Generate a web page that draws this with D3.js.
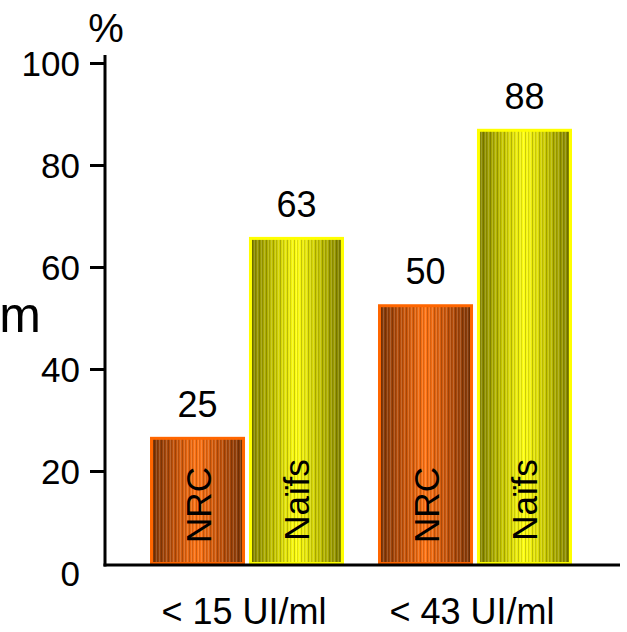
<!DOCTYPE html>
<html>
<head>
<meta charset="utf-8">
<script src="https://cdn.jsdelivr.net/npm/d3@7"></script>
<style>
  html, body { margin: 0; padding: 0; background: #fff; }
  svg { display: block; font-family: "Liberation Sans", Arial, sans-serif; }
</style>
</head>
<body>
<svg id="chart" width="627" height="632"></svg>
<script>
// ---- data ----
const groups = ["< 15 UI/ml", "< 43 UI/ml"];
const series = ["NRC", "Naïfs"];
const labelValues = { "< 15 UI/ml": [25, 63], "< 43 UI/ml": [50, 88] };   // printed values
const barHeights  = { "< 15 UI/ml": [26.7, 65.9], "< 43 UI/ml": [52.7, 87.1] }; // drawn heights
const yTicks = [0, 20, 40, 60, 80, 100];
const yUnit = "%";
const sideLabel = "m";

// ---- layout ----
const svg = d3.select("#chart");
const y = d3.scaleLinear().domain([0, 100]).range([573, 63]);
const axisY = 565;
const axisX = 105;
const x0 = d3.scaleBand().domain(groups).range([133, 589]).padding(0);
const x1 = d3.scaleBand().domain(series).range([17, 211]).paddingInner(0.04).paddingOuter(0);

// ---- gradients ----
const defs = svg.append("defs");
function grad(id, edge, mid, center) {
  const g = defs.append("linearGradient").attr("id", id)
    .attr("x1", "0%").attr("x2", "100%").attr("y1", "0%").attr("y2", "0%");
  [[0, edge], [0.25, mid], [0.5, center], [0.75, mid], [1, edge]].forEach(([o, c]) =>
    g.append("stop").attr("offset", o).attr("stop-color", c));
}
grad("gNRC", "#7a3508", "#c2520a", "#ff7414");
grad("gNaifs", "#7f7f00", "#c4c400", "#ffff10");

// stripe texture
const pat = defs.append("pattern").attr("id", "stripes")
  .attr("patternUnits", "userSpaceOnUse").attr("width", 7).attr("height", 10);
[[0, 0.2, "#000"], [2, 0.14, "#fff"], [3, 0.12, "#000"], [5, 0.17, "#fff"]].forEach(([px, op, c]) =>
  pat.append("rect").attr("x", px).attr("y", 0).attr("width", 1).attr("height", 10)
    .attr("fill", c).attr("opacity", op));

const fills = { "NRC": "url(#gNRC)", "Naïfs": "url(#gNaifs)" };
const strokes = { "NRC": "#ff6600", "Naïfs": "#ffff00" };

// ---- bars ----
const gBars = svg.append("g");
groups.forEach(gr => {
  series.forEach((s, i) => {
    const v = barHeights[gr][i];
    const bx = x0(gr) + x1(s);
    const bw = x1.bandwidth();
    const top = y(v);
    gBars.append("rect").attr("x", bx + 1.5).attr("y", top + 1.5)
      .attr("width", bw - 3).attr("height", axisY - top - 3)
      .attr("fill", fills[s]).attr("stroke", strokes[s]).attr("stroke-width", 3);
    gBars.append("rect").attr("x", bx + 3).attr("y", top + 3)
      .attr("width", bw - 6).attr("height", axisY - top - 6)
      .attr("fill", "url(#stripes)");
    // value label
    gBars.append("text")
      .attr("x", bx + bw / 2).attr("y", top - 20)
      .attr("text-anchor", "middle").attr("font-size", 36).attr("fill", "#000")
      .text(labelValues[gr][i]);
    // series label rotated inside bar
    const ty = s === "NRC" ? 505 : 500;
    gBars.append("text")
      .attr("transform", `translate(${bx + bw / 2 + 13},${ty}) rotate(-90)`)
      .attr("text-anchor", "middle").attr("font-size", 35).attr("fill", "#000")
      .text(s);
  });
});

// ---- axes ----
const yAxis = d3.axisLeft(y).tickValues(yTicks).tickSize(15).tickPadding(10);
const gy = svg.append("g").attr("transform", `translate(${axisX},0)`).call(yAxis);
gy.select(".domain").remove();
gy.selectAll(".tick line").attr("stroke", "#000").attr("stroke-width", 3)
  .filter(d => d === 0).remove();
gy.selectAll(".tick text").attr("font-size", 35).attr("fill", "#000")
  .attr("font-family", "Liberation Sans, Arial, sans-serif")
  .attr("dy", "0.36em");
svg.append("line").attr("x1", axisX).attr("x2", axisX).attr("y1", 55).attr("y2", axisY + 1.5)
  .attr("stroke", "#000").attr("stroke-width", 3);
svg.append("line").attr("x1", axisX - 1.5).attr("x2", 620).attr("y1", axisY).attr("y2", axisY)
  .attr("stroke", "#000").attr("stroke-width", 3);

// category labels
svg.append("g").selectAll("text").data(groups).join("text")
  .attr("x", d => x0(d) + x0.bandwidth() / 2 - 3)
  .attr("y", 624)
  .attr("text-anchor", "middle").attr("font-size", 36).attr("fill", "#000")
  .text(d => d);

// unit and side label
svg.append("text").attr("x", 106).attr("y", 42).attr("text-anchor", "middle")
  .attr("font-size", 40).attr("fill", "#000").text(yUnit);
svg.append("text").attr("x", 41).attr("y", 332).attr("text-anchor", "end")
  .attr("font-size", 50).attr("fill", "#000").text(sideLabel);
</script>
</body>
</html>
